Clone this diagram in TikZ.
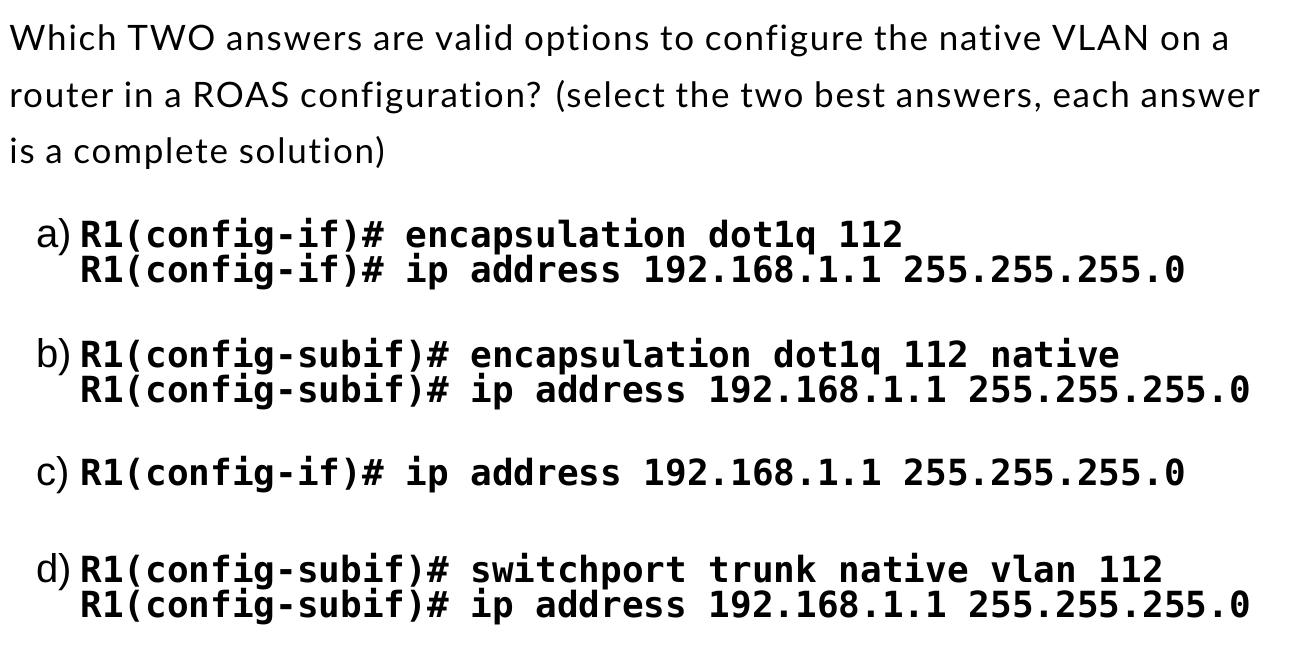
\documentclass[tikz,border=0pt]{standalone}
\usepackage{fontspec}
\setmainfont[LetterSpace=5,Ligatures={NoCommon}]{Lato}
\newfontfamily\codefont{DejaVu Sans Mono}
\newfontfamily\labelfont{Liberation Sans}
\tikzset{
  qtext/.style={anchor=base west, inner sep=0pt, font=\fontsize{17.5}{19}\selectfont},
  optlabel/.style={anchor=base west, inner sep=0pt, font=\labelfont\fontsize{20}{22}\selectfont},
  cmd/.style={anchor=base west, inner sep=0pt, font=\codefont\bfseries\fontsize{18}{19}\selectfont}
}
\begin{document}
\begin{tikzpicture}[x=0.5pt,y=-0.5pt]
\useasboundingbox (0,0) rectangle (1296,654);
\coordinate (Q1) at (9,50);
\coordinate (Q2) at (9,107);
\coordinate (Q3) at (9,163);
\node (q1) [qtext] at (Q1) {Which TWO answers are valid options to configure the native VLAN on a};
\node (q2) [qtext] at (Q2) {router in a ROAS configuration? (select the two best answers, each answer};
\node (q3) [qtext] at (Q3) {is a complete solution)};
% option a
\node (la) [optlabel] at (36,247) {a)};
\node (a1) [cmd] at (80,247) {R1(config-if)\# encapsulation dot1q 112};
\node (a2) [cmd] at (80,282) {R1(config-if)\# ip address 192.168.1.1 255.255.255.0};
% option b
\node (lb) [optlabel] at (36,367) {b)};
\node (b1) [cmd] at (80,367) {R1(config-subif)\# encapsulation dot1q 112 native};
\node (b2) [cmd] at (80,402) {R1(config-subif)\# ip address 192.168.1.1 255.255.255.0};
% option c
\node (lc) [optlabel] at (36,485) {c)};
\node (c1) [cmd] at (80,485) {R1(config-if)\# ip address 192.168.1.1 255.255.255.0};
% option d
\node (ld) [optlabel] at (36,582) {d)};
\node (d1) [cmd] at (80,582) {R1(config-subif)\# switchport trunk native vlan 112};
\node (d2) [cmd] at (80,617) {R1(config-subif)\# ip address 192.168.1.1 255.255.255.0};
\end{tikzpicture}
\end{document}
